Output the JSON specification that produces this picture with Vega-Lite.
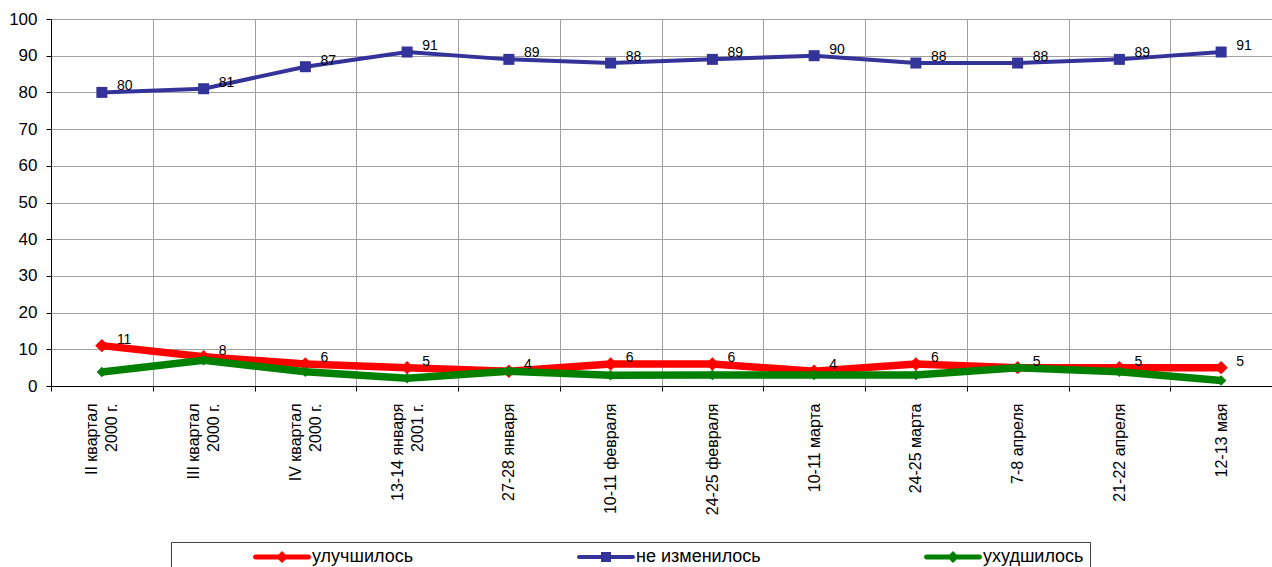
{
  "$schema": "https://vega.github.io/schema/vega-lite/v6.json",
  "width": 1221,
  "height": 367,
  "autosize": {"type": "none"},
  "padding": {"left": 51, "top": 19, "right": 0, "bottom": 181},
  "background": "white",
  "data": {
    "values": [
      {"period": "II квартал\n2000 г.", "series": "улучшилось", "value": 11},
      {"period": "III квартал\n2000 г.", "series": "улучшилось", "value": 8},
      {"period": "IV квартал\n2000 г.", "series": "улучшилось", "value": 6},
      {"period": "13-14 января\n2001 г.", "series": "улучшилось", "value": 5},
      {"period": "27-28 января", "series": "улучшилось", "value": 4},
      {"period": "10-11 февраля", "series": "улучшилось", "value": 6},
      {"period": "24-25 февраля", "series": "улучшилось", "value": 6},
      {"period": "10-11 марта", "series": "улучшилось", "value": 4},
      {"period": "24-25 марта", "series": "улучшилось", "value": 6},
      {"period": "7-8 апреля", "series": "улучшилось", "value": 5},
      {"period": "21-22 апреля", "series": "улучшилось", "value": 5},
      {"period": "12-13 мая", "series": "улучшилось", "value": 5},
      {"period": "II квартал\n2000 г.", "series": "не изменилось", "value": 80},
      {"period": "III квартал\n2000 г.", "series": "не изменилось", "value": 81},
      {"period": "IV квартал\n2000 г.", "series": "не изменилось", "value": 87},
      {"period": "13-14 января\n2001 г.", "series": "не изменилось", "value": 91},
      {"period": "27-28 января", "series": "не изменилось", "value": 89},
      {"period": "10-11 февраля", "series": "не изменилось", "value": 88},
      {"period": "24-25 февраля", "series": "не изменилось", "value": 89},
      {"period": "10-11 марта", "series": "не изменилось", "value": 90},
      {"period": "24-25 марта", "series": "не изменилось", "value": 88},
      {"period": "7-8 апреля", "series": "не изменилось", "value": 88},
      {"period": "21-22 апреля", "series": "не изменилось", "value": 89},
      {"period": "12-13 мая", "series": "не изменилось", "value": 91},
      {"period": "II квартал\n2000 г.", "series": "ухудшилось", "value": 3.8},
      {"period": "III квартал\n2000 г.", "series": "ухудшилось", "value": 7},
      {"period": "IV квартал\n2000 г.", "series": "ухудшилось", "value": 3.9},
      {"period": "13-14 января\n2001 г.", "series": "ухудшилось", "value": 2.1},
      {"period": "27-28 января", "series": "ухудшилось", "value": 4},
      {"period": "10-11 февраля", "series": "ухудшилось", "value": 2.9},
      {"period": "24-25 февраля", "series": "ухудшилось", "value": 3},
      {"period": "10-11 марта", "series": "ухудшилось", "value": 3},
      {"period": "24-25 марта", "series": "ухудшилось", "value": 3},
      {"period": "7-8 апреля", "series": "ухудшилось", "value": 5},
      {"period": "21-22 апреля", "series": "ухудшилось", "value": 3.9},
      {"period": "12-13 мая", "series": "ухудшилось", "value": 1.5}
    ]
  },
  "encoding": {
    "x": {
      "field": "period",
      "type": "nominal",
      "sort": null,
      "scale": {"type": "band", "paddingInner": 0, "paddingOuter": 0},
      "axis": {
        "title": null,
        "tickBand": "extent",
        "labelAngle": -90,
        "labelAlign": "right",
        "labelBaseline": "middle",
        "labelPadding": 12,
        "labelFontSize": 16,
        "labelLineHeight": 10,
        "labelOffset": -10,
        "labelExpr": "indexof(datum.label, '\\n') < 0 ? ['', datum.label] : [split(datum.label, '\\n')[0], '\u200b', split(datum.label, '\\n')[1]]"
      }
    },
    "y": {
      "field": "value",
      "type": "quantitative",
      "scale": {"domain": [0, 100], "nice": false},
      "axis": {
        "title": null,
        "values": [0, 10, 20, 30, 40, 50, 60, 70, 80, 90, 100],
        "labelPadding": 9,
        "labelFontSize": 17
      }
    },
    "color": {
      "field": "series",
      "type": "nominal",
      "scale": {
        "domain": ["улучшилось", "не изменилось", "ухудшилось"],
        "range": ["#ff0000", "#333399", "#008000"]
      },
      "legend": {
        "orient": "none",
        "legendX": 120,
        "legendY": 523,
        "direction": "horizontal",
        "title": "MMMMM",
        "titleColor": "white",
        "titleOrient": "left",
        "titleFontSize": 16,
        "titlePadding": 8,
        "padding": 6,
        "strokeColor": "#444444",
        "fillColor": "white",
        "columnPadding": 162,
        "symbolSize": 256,
        "labelOffset": 42,
        "labelFontSize": 18,
        "labelLimit": 400,
        "labelColor": "black",
        "encoding": {
          "symbols": {
            "shape": {"value": {"expr": "datum.value == 'не изменилось' ? 'M-0.75,-0.25 L6,-0.25 A0.25,0.25 0 0 1 6,0.25 L-0.75,0.25 A0.25,0.25 0 0 1 -0.75,-0.25 Z M2,-0.625 L3.25,-0.625 L3.25,0.625 L2,0.625 Z' : 'M-0.6875,-0.3125 L5.9375,-0.3125 A0.3125,0.3125 0 0 1 5.9375,0.3125 L-0.6875,0.3125 A0.3125,0.3125 0 0 1 -0.6875,-0.3125 Z M2.625,-0.75 L3.375,0 L2.625,0.75 L1.875,0 Z'"}},
            "fill": {"value": {"expr": "scale('color', datum.value)"}},
            "stroke": {"value": {"expr": "scale('color', datum.value)"}},
            "strokeWidth": {"value": 0},
            "opacity": {"value": 1},
            "fillOpacity": {"value": 1}
          }
        }
      }
    }
  },
  "layer": [
    {
      "transform": [{"filter": "datum.series == 'не изменилось'"}],
      "mark": {"type": "line", "strokeWidth": 4}
    },
    {
      "transform": [{"filter": "datum.series == 'не изменилось'"}],
      "mark": {"type": "point", "shape": "square", "filled": true, "size": 121, "opacity": 1}
    },
    {
      "transform": [{"filter": "datum.series == 'улучшилось'"}],
      "mark": {"type": "line", "strokeWidth": 7.5}
    },
    {
      "transform": [{"filter": "datum.series == 'улучшилось'"}],
      "mark": {"type": "point", "shape": "diamond", "filled": true, "size": 180, "opacity": 1}
    },
    {
      "transform": [{"filter": "datum.series == 'ухудшилось'"}],
      "mark": {"type": "line", "strokeWidth": 7.5}
    },
    {
      "transform": [{"filter": "datum.series == 'ухудшилось'"}],
      "mark": {"type": "point", "shape": "diamond", "filled": true, "size": 110, "opacity": 1}
    },
    {
      "transform": [{"filter": "datum.series != 'ухудшилось'"}],
      "mark": {"type": "text", "align": "left", "baseline": "middle", "dx": 15, "dy": -6, "fontSize": 14, "color": "black"},
      "encoding": {
        "text": {"field": "value", "type": "quantitative"},
        "color": {"value": "black"}
      }
    }
  ],
  "config": {
    "font": "Liberation Sans",
    "view": {"stroke": null},
    "axis": {
      "grid": true,
      "gridColor": "#a0a0a0",
      "gridOpacity": 1,
      "gridWidth": 1,
      "domainColor": "black",
      "domainWidth": 1,
      "tickColor": "black",
      "tickSize": 5,
      "labelFont": "Liberation Sans",
      "labelFontSize": 15,
      "labelColor": "black"
    },
    "legend": {"labelFont": "Liberation Sans", "titleFont": "Liberation Sans"}
  }
}
